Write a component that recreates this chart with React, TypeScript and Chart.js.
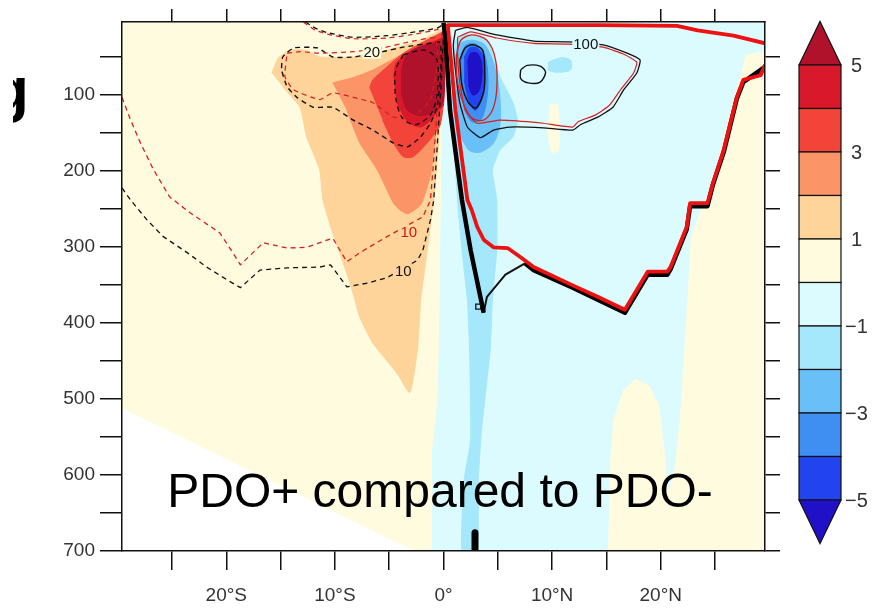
import React, { useEffect, useRef } from 'react';
import { Chart, registerables } from 'chart.js';

Chart.register(...registerables);

type Pt = [number, number]; // [latitude (°N), depth (m)]

// ---------- axes ----------
const latMin = -29.6;
const latMax = 29.6;
const depthMin = 5;
const depthMax = 700;
const latTickLabels: Record<string, string> = { '-20': '20°S', '-10': '10°S', '0': '0°', '10': '10°N', '20': '20°N' };
const depthTickLabels = [100, 200, 300, 400, 500, 600, 700];

// ---------- colour scale ----------
const levelEdges = [5, 4, 3, 2, 1, 0, -1, -2, -3, -4, -5];
const levelColors = ['#b0112b', '#d7192b', '#f3443a', '#fb9466', '#fed49a', '#fffbdf', '#dcfbff', '#a5e8fc', '#69bff8', '#3f8ef2', '#2244ee', '#2010c8'];
const colorbarLabels = ['5', '3', '1', '−1', '−3', '−5'];
const colorbarLabelValues = [5, 3, 1, -1, -3, -5];

// ---------- shaded regions ----------
const negL1Region: Pt[] = [[0, 5], [29.6, 5], [29.6, 42], [27.8, 48], [26.9, 94], [25.9, 147], [24.7, 219], [23.6, 252], [22.7, 291], [22.4, 370], [22.0, 462], [21.7, 528], [21.2, 594], [20.7, 620], [20.4, 567], [19.9, 509], [19.0, 482], [17.7, 473], [16.5, 488], [15.6, 528], [15.3, 580], [15.1, 700], [-1.0, 700], [-1.0, 567], [-0.5, 502], [-0.3, 370], [-0.2, 239], [-0.1, 108]];
const creamStreak: Pt[] = [[9.8, 114], [10.5, 114], [10.6, 173], [10.0, 176], [9.6, 147]];
const missingWedge: Pt[] = [[-29.6, 512], [-29.6, 700], [-2.7, 700]];
const posL1Region: Pt[] = [[-15.8, 72], [-15.2, 52], [-14.1, 42], [-12.7, 42], [-11.4, 51], [-8.3, 51], [-5.2, 42], [-2.1, 29], [-0.3, 16], [0, 13], [0, 55], [-0.2, 107], [-0.5, 173], [-0.9, 239], [-1.5, 305], [-2.1, 370], [-2.4, 436], [-3.1, 492], [-4.3, 466], [-6.5, 427], [-7.7, 393], [-8.6, 348], [-10.2, 282], [-11.1, 239], [-11.4, 199], [-12.6, 156], [-13.2, 117], [-14.8, 90]];
const posL2Region: Pt[] = [[-10.2, 85], [-8.3, 78], [-6.5, 68], [-4.0, 49], [-1.7, 32], [0, 22], [0, 55], [-0.3, 107], [-0.8, 160], [-1.2, 206], [-2.1, 245], [-3.3, 257], [-4.0, 252], [-4.6, 243], [-6.1, 199], [-7.7, 164], [-8.9, 121]];
const posL3Region: Pt[] = [[-6.8, 92], [-6.5, 81], [-5.2, 64], [-3.7, 46], [-2.1, 33], [-0.6, 22], [0, 19], [0, 107], [-0.3, 140], [-0.9, 153], [-1.5, 164], [-2.8, 182], [-3.7, 182], [-4.6, 164], [-5.6, 134]];
const posL4Region: Pt[] = [[-4.6, 77], [-4.3, 58], [-2.8, 42], [-0.6, 29], [0, 26], [0, 114], [-0.6, 123], [-1.2, 134], [-2.1, 143], [-3.3, 136], [-4.3, 111]];
const posL5Region: Pt[] = [[-3.9, 71], [-3.4, 48], [-2.1, 37], [-0.6, 33], [0, 35], [0, 107], [-0.7, 121], [-2.0, 128], [-3.3, 121], [-3.9, 98]];
const negL2Region: Pt[] = [[0.9, 33], [1.7, 22], [2.9, 23], [4.1, 31], [5.2, 77], [6.4, 111], [6.8, 134], [6.4, 156], [5.2, 173], [4.5, 199], [4.9, 239], [4.9, 305], [4.5, 370], [4.3, 436], [3.5, 541], [3.2, 607], [3.1, 700], [1.7, 700], [1.9, 607], [2.5, 554], [2.4, 436], [2.2, 370], [1.7, 305], [1.3, 239], [1.0, 173], [0.8, 107]];
const negL2Blob: Pt[] = [[9.6, 58], [10.8, 52], [11.7, 55], [11.7, 68], [10.3, 71], [9.6, 68]];
const negL3Region: Pt[] = [[1.1, 55], [1.4, 35], [2.5, 29], [3.8, 35], [4.8, 68], [5.2, 107], [5.2, 140], [4.6, 164], [3.4, 176], [2.3, 173], [1.5, 147], [1.2, 94]];
const negL4Region: Pt[] = [[1.6, 48], [2.1, 35], [3.0, 34], [3.8, 48], [4.1, 81], [3.9, 114], [3.4, 134], [2.6, 136], [2.0, 121], [1.6, 88]];
const negL5Region: Pt[] = [[1.9, 52], [2.4, 39], [3.1, 39], [3.7, 52], [3.7, 81], [3.5, 107], [2.9, 121], [2.3, 107], [1.9, 81]];
const negL6Region: Pt[] = [[2.2, 58], [2.5, 46], [3.1, 46], [3.5, 58], [3.5, 81], [3.2, 97], [2.7, 101], [2.3, 88]];

// ---------- contour lines ----------
const blackDashed10: Pt[] = [[-29.6, 223], [-28.8, 239], [-27.3, 265], [-25.8, 287], [-23.6, 308], [-21.8, 327], [-19.9, 344], [-18.7, 354], [-16.9, 331], [-14.4, 328], [-11.4, 327], [-10.4, 324], [-8.9, 353], [-7.0, 348], [-5.2, 341], [-2.4, 318], [-1.9, 305], [-1.2, 265], [-0.9, 239], [-0.6, 173], [-0.2, 81], [0, 16]];
const redDashed10: Pt[] = [[-29.6, 104], [-28.8, 134], [-27.9, 164], [-26.7, 199], [-25.2, 235], [-23.3, 256], [-20.6, 282], [-19.4, 308], [-18.7, 324], [-16.6, 295], [-14.4, 302], [-12.6, 301], [-10.2, 289], [-8.9, 320], [-7.7, 308], [-5.2, 287], [-1.9, 261], [-1.2, 239], [-0.9, 186], [-0.6, 121], [-0.3, 55], [-0.1, 16]];
const blackDashedTop: Pt[] = [[-12.7, 5], [-11.8, 13], [-10.7, 19], [-8.3, 25], [-5.2, 23], [-3.1, 19], [-0.6, 13], [0, 8]];
const redDashedTop: Pt[] = [[-12.9, 5], [-11.9, 15], [-10.7, 21], [-8.3, 27], [-5.2, 26], [-3.1, 22], [-0.6, 15], [0, 10]];
const blackDashed20: Pt[] = [[-0.3, 31], [-3.7, 38], [-5.6, 44], [-8.3, 51], [-10.2, 51], [-11.6, 39], [-13.8, 39], [-14.8, 51], [-14.9, 68], [-14.4, 90], [-13.5, 104], [-12.0, 117], [-10.2, 117], [-8.3, 134], [-6.5, 147], [-4.6, 164], [-3.3, 169], [-2.1, 156], [-1.2, 138], [-0.6, 117], [-0.3, 81], [-0.2, 48], [-0.3, 31]];
const redDashed20: Pt[] = [[-14.4, 46], [-13.2, 44], [-11.4, 46], [-8.3, 44], [-5.6, 39], [-3.1, 31], [-0.8, 26], [-0.5, 55], [-1.2, 107], [-2.6, 127], [-4.6, 130], [-6.5, 111], [-8.3, 104], [-10.2, 98], [-11.4, 107], [-13.8, 94], [-14.6, 77], [-14.4, 46]];
const blackDashedCore: Pt[] = [[-3.7, 48], [-4.4, 68], [-4.4, 104], [-3.8, 131], [-2.6, 140], [-1.2, 127], [-0.6, 101], [-0.6, 55], [-1.7, 42], [-3.7, 48]];
const black100Loop: Pt[] = [[1.1, 16], [2.2, 12], [4.9, 22], [8.3, 30], [11.5, 31], [14.7, 35], [16.9, 46], [18.1, 55], [17.8, 72], [16.6, 94], [15.6, 117], [14.2, 130], [12.6, 140], [11.9, 147], [9.2, 144], [6.1, 143], [4.6, 147], [3.4, 157], [2.2, 143], [1.5, 111], [1.1, 68], [0.9, 35], [1.1, 16]];
const red100Loop: Pt[] = [[1.3, 25], [2.5, 18], [4.9, 26], [8.3, 33], [11.5, 34], [14.7, 38], [16.7, 48], [17.8, 58], [17.5, 72], [16.3, 94], [15.3, 114], [14.0, 127], [12.4, 136], [11.9, 143], [9.2, 138], [7.7, 136], [5.2, 134], [3.1, 138], [2.0, 121], [1.5, 85], [1.3, 48], [1.3, 25]];
const blackInnerLoop: Pt[] = [[1.5, 55], [2.0, 39], [2.7, 35], [3.6, 42], [3.8, 68], [3.7, 97], [3.0, 118], [2.3, 111], [1.7, 88], [1.5, 55]];
const redInnerLoop: Pt[] = [[1.2, 48], [1.6, 29], [2.6, 22], [4.0, 29], [4.8, 55], [4.9, 94], [4.5, 121], [3.7, 134], [2.6, 131], [1.7, 107], [1.2, 75], [1.2, 48]];
const blackSmallLoop: Pt[] = [[7.1, 68], [7.7, 62], [8.9, 63], [9.4, 71], [8.9, 84], [7.8, 85], [7.1, 79], [7.1, 68]];
const blackThickEast: Pt[] = [[29.6, 64], [27.6, 84], [27.0, 106], [25.8, 176], [24.8, 219], [24.3, 247], [22.7, 247], [22.4, 277], [20.9, 330], [20.6, 337], [18.8, 337], [16.7, 387], [14.2, 370], [11.9, 354], [8.3, 331], [7.5, 322]];
const blackThinLink: Pt[] = [[7.5, 322], [5.7, 337], [4.0, 366], [3.7, 387]];
const blackThickWest: Pt[] = [[3.7, 387], [2.5, 305], [1.7, 239], [0.6, 121], [0.2, 29], [0, 6]];
const redThick: Pt[] = [[29.6, 61], [29.2, 75], [27.6, 81], [27.0, 104], [25.8, 173], [24.8, 217], [24.3, 243], [22.7, 243], [22.4, 274], [20.9, 327], [20.6, 333], [18.8, 333], [16.7, 383], [14.2, 366], [11.9, 351], [8.3, 327], [7.1, 314], [5.9, 302], [4.6, 301], [3.7, 291], [3.1, 274], [2.6, 252], [2.2, 239], [1.1, 121], [0.4, 9], [14.4, 9], [21.5, 10], [23.4, 16], [26.7, 23], [29.6, 33]];
const bottomStub: Pt[] = [[2.9, 676], [2.9, 700]];
const squareMarker: Pt[] = [[3.2, 379]];

// ---------- contour labels ----------
const contourLabelText = ['20', '10', '10', '100'];
const contourLabelLat = [-6.6, -3.2, -3.7, 13.1];
const contourLabelDepth = [44, 281, 332, 34];
const contourLabelColor = ['#111', '#d01818', '#111', '#111'];
const contourLabelBg = ['#fffbdf', '#fed49a', '#fed49a', '#dcfbff'];

const titleText = 'PDO+ compared to PDO-';

const toXY = (pts: Pt[]) => pts.map(([x, y]) => ({ x, y }));

export default function App() {
  const ref = useRef<HTMLCanvasElement>(null);

  useEffect(() => {
    document.body.style.margin = '0';
    const canvas = ref.current;
    if (!canvas) return;

    const layers: any[] = [];
    const shade = (pts: Pt[], color: string, tension = 0) =>
      layers.push({
        type: 'line', data: toXY(pts), fill: 'shape', backgroundColor: color, borderColor: color,
        borderWidth: 1, pointRadius: 0, pointHitRadius: 0, tension, clip: 0,
      });
    const contour = (pts: Pt[], color: string, width: number, dash: number[] = [], tension = 0) =>
      layers.push({
        type: 'line', data: toXY(pts), fill: false, borderColor: color, borderWidth: width,
        borderDash: dash, pointRadius: 0, pointHitRadius: 0, tension, clip: 0,
        borderJoinStyle: 'round', borderCapStyle: 'butt',
      });

    shade(negL1Region, levelColors[6]);
    shade(creamStreak, levelColors[5], 0.3);
    shade(missingWedge, '#ffffff');
    shade(posL1Region, levelColors[4], 0.15);
    shade(posL2Region, levelColors[3], 0.2);
    shade(posL3Region, levelColors[2], 0.25);
    shade(posL4Region, levelColors[1], 0.25);
    shade(posL5Region, levelColors[0], 0.3);
    shade(negL2Region, levelColors[7], 0.15);
    shade(negL2Blob, levelColors[7], 0.3);
    shade(negL3Region, levelColors[8], 0.3);
    shade(negL4Region, levelColors[9], 0.3);
    shade(negL5Region, levelColors[10], 0.3);
    shade(negL6Region, levelColors[11], 0.3);

    const dash = [5, 4];
    contour(blackDashed10, '#111', 1.3, dash);
    contour(redDashed10, '#d42020', 1.3, dash);
    contour(blackDashedTop, '#111', 1.3, dash, 0.2);
    contour(redDashedTop, '#d42020', 1.2, dash, 0.2);
    contour(blackDashed20, '#111', 1.4, dash, 0.15);
    contour(redDashed20, '#d42020', 1.2, dash, 0.15);
    contour(blackDashedCore, '#111', 1.3, dash, 0.3);
    contour(black100Loop, '#111', 1.3, [], 0.15);
    contour(red100Loop, '#d42020', 1.2, [], 0.15);
    contour(redInnerLoop, '#d42020', 1.3, [], 0.3);
    contour(blackInnerLoop, '#111', 1.5, [], 0.3);
    contour(blackSmallLoop, '#111', 1.4, [], 0.3);
    contour(blackThickEast, '#000', 4.5);
    contour(blackThinLink, '#111', 2);
    contour(blackThickWest, '#000', 4.5);
    contour(redThick, '#ee1111', 3.8);
    contour(bottomStub, '#000', 7);
    layers.push({
      type: 'line', data: toXY(squareMarker), showLine: false, pointStyle: 'rect', pointRadius: 3.5,
      pointBorderColor: '#111', pointBackgroundColor: 'rgba(0,0,0,0)', pointBorderWidth: 1.3, clip: 0,
    });

    const n = layers.length;
    layers.forEach((d, i) => { d.order = n - i; });

    const bgPlugin = {
      id: 'bgPlugin',
      beforeDraw(chart: any) {
        const { ctx, chartArea: a } = chart;
        ctx.save();
        ctx.fillStyle = '#ffffff';
        ctx.fillRect(0, 0, chart.width, chart.height);
        ctx.fillStyle = levelColors[5];
        ctx.fillRect(a.left, a.top, a.right - a.left, a.bottom - a.top);
        ctx.restore();
      },
    };

    const labelPlugin = {
      id: 'labelPlugin',
      afterDatasetsDraw(chart: any) {
        const { ctx } = chart;
        const xs = chart.scales.x;
        const ys = chart.scales.y;
        ctx.save();
        ctx.font = '15px "Liberation Sans", Arial, sans-serif';
        ctx.textAlign = 'center';
        ctx.textBaseline = 'middle';
        contourLabelText.forEach((t, i) => {
          const px = xs.getPixelForValue(contourLabelLat[i]);
          const py = ys.getPixelForValue(contourLabelDepth[i]);
          const w = ctx.measureText(t).width;
          ctx.fillStyle = contourLabelBg[i];
          ctx.fillRect(px - w / 2 - 1, py - 7, w + 2, 14);
          ctx.fillStyle = contourLabelColor[i];
          ctx.fillText(t, px, py + 1);
        });
        ctx.restore();
      },
    };

    const overlayPlugin = {
      id: 'overlayPlugin',
      afterDraw(chart: any) {
        const { ctx } = chart;
        ctx.save();
        // title
        ctx.fillStyle = '#000';
        ctx.font = '48px "Liberation Sans", Arial, sans-serif';
        ctx.textAlign = 'center';
        ctx.textBaseline = 'alphabetic';
        ctx.fillText(titleText, 440, 507);
        // clipped glyph on the left edge
        ctx.save();
        ctx.beginPath();
        ctx.rect(13, 0, 30, 200);
        ctx.clip();
        ctx.font = 'bold 62px "Liberation Sans", Arial, sans-serif';
        ctx.textAlign = 'left';
        ctx.fillText('g', -9, 110);
        ctx.restore();

        // colour bar
        const left = 799;
        const right = 841;
        const top = 65;
        const step = 43.5;
        const yFor = (v: number) => top + (levelEdges[0] - v) * step;
        const mid = (left + right) / 2;
        ctx.lineWidth = 1.2;
        ctx.strokeStyle = '#111';
        ctx.beginPath();
        ctx.moveTo(left, top);
        ctx.lineTo(mid, top - step);
        ctx.lineTo(right, top);
        ctx.closePath();
        ctx.fillStyle = levelColors[0];
        ctx.fill();
        ctx.stroke();
        for (let i = 0; i < levelEdges.length - 1; i++) {
          const y0 = yFor(levelEdges[i]);
          const y1 = yFor(levelEdges[i + 1]);
          ctx.fillStyle = levelColors[i + 1];
          ctx.fillRect(left, y0, right - left, y1 - y0);
          ctx.strokeRect(left, y0, right - left, y1 - y0);
        }
        const bottom = yFor(levelEdges[levelEdges.length - 1]);
        ctx.beginPath();
        ctx.moveTo(left, bottom);
        ctx.lineTo(mid, bottom + step);
        ctx.lineTo(right, bottom);
        ctx.closePath();
        ctx.fillStyle = levelColors[levelColors.length - 1];
        ctx.fill();
        ctx.stroke();
        ctx.fillStyle = '#333';
        ctx.font = '20px "Liberation Sans", Arial, sans-serif';
        ctx.textAlign = 'left';
        ctx.textBaseline = 'middle';
        colorbarLabels.forEach((t, i) => {
          const v = colorbarLabelValues[i];
          ctx.fillText(t, v < 0 ? 845 : 851, yFor(v) + 1);
        });
        ctx.restore();
      },
    };

    const tickFont = { family: '"Liberation Sans", Arial, sans-serif', size: 19 };
    const axisLine = { display: true, color: '#111', width: 1.5, z: 1 };

    const chart = new Chart(canvas, {
      type: 'line',
      data: { datasets: layers },
      options: {
        animation: false,
        responsive: false,
        events: [],
        layout: { padding: { left: 0, top: 0, right: 100, bottom: 0 } },
        plugins: { legend: { display: false }, tooltip: { enabled: false } },
        scales: {
          x: {
            type: 'linear', position: 'bottom', min: latMin, max: latMax,
            ticks: {
              stepSize: 5, includeBounds: false, autoSkip: false, maxRotation: 0, padding: 14,
              color: '#333', font: tickFont,
              callback: (v: any) => latTickLabels[String(v)] ?? '',
            },
            grid: { drawOnChartArea: false, drawTicks: true, tickLength: 19, color: '#111', lineWidth: 1.5 },
            border: axisLine,
            afterFit: (s: any) => { s.height = 58; },
          },
          x2: {
            type: 'linear', position: 'top', min: latMin, max: latMax,
            ticks: { display: false, stepSize: 5, includeBounds: false, autoSkip: false },
            grid: { drawOnChartArea: false, drawTicks: true, tickLength: 13, color: '#111', lineWidth: 1.5 },
            border: axisLine,
            afterFit: (s: any) => { s.height = 22; },
          },
          y: {
            type: 'linear', position: 'left', reverse: true, min: depthMin, max: depthMax,
            ticks: {
              stepSize: 50, includeBounds: false, autoSkip: false, padding: 5,
              color: '#333', font: tickFont,
              callback: (v: any) => (depthTickLabels.includes(Number(v)) ? String(v) : ''),
            },
            grid: { drawOnChartArea: false, drawTicks: true, tickLength: 22, color: '#111', lineWidth: 1.5 },
            border: axisLine,
            afterFit: (s: any) => { s.width = 122; },
          },
          y2: {
            type: 'linear', position: 'right', reverse: true, min: depthMin, max: depthMax,
            ticks: { display: false, stepSize: 50, includeBounds: false, autoSkip: false },
            grid: { drawOnChartArea: false, drawTicks: true, tickLength: 15, color: '#111', lineWidth: 1.5 },
            border: axisLine,
            afterFit: (s: any) => { s.width = 15; },
          },
        },
      } as any,
      plugins: [bgPlugin, labelPlugin, overlayPlugin],
    } as any);

    return () => chart.destroy();
  }, []);

  return (
    <div style={{ width: 880, height: 609 }}>
      <canvas ref={ref} width={880} height={609} style={{ display: 'block' }} />
    </div>
  );
}
